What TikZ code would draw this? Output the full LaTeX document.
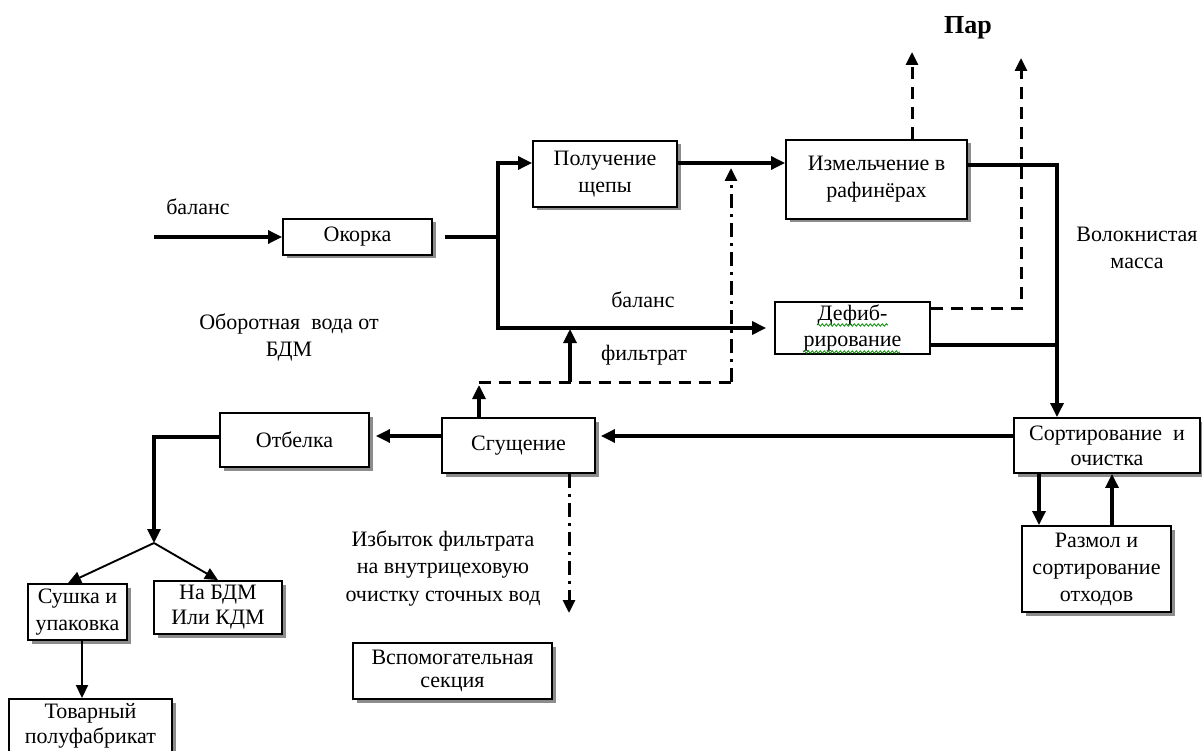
\documentclass[tikz,border=0pt]{standalone}
\usepackage{fontspec}
\setmainfont{Liberation Serif}
\usetikzlibrary{arrows.meta,shadows,decorations.pathmorphing}

\begin{document}
\begin{tikzpicture}[x=1pt,y=-1pt,
  font=\fontsize{22}{27}\selectfont,
  box/.style={draw, line width=1.9pt, fill=white, align=center, inner sep=0pt,
    drop shadow={shadow xshift=3.5pt, shadow yshift=-3.5pt, fill=black!45, opacity=1}},
  plainbox/.style={draw, line width=1.8pt, fill=white, align=center, inner sep=0pt},
  lbl/.style={align=center, inner sep=0pt},
  pipe/.style={line width=3.2pt},
  flow/.style={pipe, -{Triangle[length=14pt,width=13pt]}},
  thinflow/.style={line width=1.9pt, -{Triangle[length=13pt,width=12pt]}},
  steam/.style={line width=3pt, dash pattern=on 12pt off 8pt, -{Triangle[length=13pt,width=12pt]}},
  filtr/.style={line width=3pt, dash pattern=on 12pt off 8pt},
  ddflow/.style={line width=3pt, dash pattern=on 14pt off 6pt on 3pt off 6pt, -{Triangle[length=13pt,width=12pt]}},
  spell/.style={green!55!black, line width=0.8pt, decorate, decoration={snake, amplitude=1.2pt, segment length=4pt}}
]
\useasboundingbox (0,0) rectangle (1202,751);

% process blocks
\node[box, minimum width=149pt, minimum height=36pt] (okorka) at (357.5,237) {Окорка};
\node[box, minimum width=144pt, minimum height=66pt] (poluch) at (605,174) {Получение\\щепы};
\node[box, minimum width=181pt, minimum height=79pt] (izmel) at (876.5,179.5) {Измельчение в\\рафинёрах};
\node[plainbox, minimum width=155pt, minimum height=52pt, font=\fontsize{22}{26}\selectfont] (defib) at (852.5,328) {Дефиб-\\рирование};
\node[box, minimum width=186pt, minimum height=55pt, font=\fontsize{22}{25}\selectfont] (sort) at (1107,445.5) {Сортирование\ \ и\\очистка};
\node[box, minimum width=149pt, minimum height=86pt] (razmol) at (1096.5,569) {Размол и\\сортирование\\отходов};
\node[box, minimum width=153pt, minimum height=55pt] (sgush) at (518.5,445.5) {Сгущение};
\node[box, minimum width=149pt, minimum height=54pt] (otbel) at (294.5,440) {Отбелка};
\node[box, minimum width=99pt, minimum height=56pt] (sushka) at (77.5,612) {Сушка и\\упаковка};
\node[box, minimum width=128pt, minimum height=53pt, font=\fontsize{22}{25}\selectfont] (nabdm) at (218,607.5) {На БДМ\\Или КДМ};
\node[box, minimum width=163pt, minimum height=53pt, font=\fontsize{22}{25}\selectfont] (tovar) at (90.5,725.5) {Товарный\\полуфабрикат};
\node[box, minimum width=199pt, minimum height=56pt, font=\fontsize{22}{23}\selectfont] (vspom) at (452.5,671) {Вспомогательная\\секция};

% free labels
\node[lbl] (balIn) at (198,207) {баланс};
\node[lbl] (oborot) at (289,337) {Оборотная\ \ вода от\\БДМ};
\node[lbl] (balMid) at (643,300) {баланс};
\node[lbl] (filtrat) at (644,355) {фильтрат};
\node[lbl] (volokno) at (1137,247.5) {Волокнистая\\масса};
\node[lbl, font=\fontsize{26}{30}\selectfont\bfseries] (par) at (968,28) {Пар};
\node[lbl, font=\fontsize{22}{27.5}\selectfont] (izbytok) at (443,568) {Избыток фильтрата\\на внутрицеховую\\очистку сточных вод};

% spelling marks under the defibration label
\draw[spell] (817,325) -- (888,325);
\draw[spell] (803,352) -- (900,352);

% junction points
\coordinate (in) at (154,237);
\coordinate (j1) at (498,237);
\coordinate (steamA) at (912,52);
\coordinate (steamB) at (1021,58);
\coordinate (trunk) at (1057,165);
\coordinate (fl) at (479,382);
\coordinate (fr) at (731,382);
\coordinate (fm) at (570,382);
\coordinate (fmtop) at (570,329);
\coordinate (frtop) at (731,168);
\coordinate (br) at (154,543);
\coordinate (excess) at (569,613);
\coordinate (pOut) at ([yshift=11pt]poluch.east);
\coordinate (dOut) at ([yshift=-17pt]defib.east);
\coordinate (sOut) at ([yshift=9.5pt]sort.west);
\coordinate (gOut) at ([yshift=9.5pt]sgush.west);
\coordinate (dn1) at ([xshift=-68pt]sort.south);
\coordinate (up1) at ([xshift=5pt]sort.south);
\coordinate (suOut) at ([xshift=4.5pt]sushka.south);

% main flow
\draw[flow] (in) -- (okorka.west);
\draw[pipe] ([xshift=12pt]okorka.east) -- (j1);
\draw[flow] (j1) |- ([yshift=11pt]poluch.west);
\draw[flow] (j1) |- ([xshift=-8pt]defib.west);
\draw[flow] (pOut) -- (pOut -| izmel.west);
\draw[flow] ([yshift=14.5pt]izmel.east) -| ([xshift=-50pt]sort.north);
\draw[pipe] (dOut) -- (dOut -| trunk);
\draw[flow, shorten >=5pt] (sOut) -- (sOut -| sgush.east);
\draw[flow, shorten >=6pt] (gOut) -- (gOut -| otbel.east);
\draw[flow] ([yshift=3pt]otbel.west) -| (br);
\draw[thinflow] (br) -- ([xshift=-9.5pt]sushka.north);
\draw[thinflow] (br) -- (nabdm.north);
\draw[thinflow] (suOut) -- (suOut |- tovar.north);
\draw[flow] (dn1) -- (dn1 |- razmol.north);
\draw[flow] (up1 |- razmol.north) -- (up1);

% steam
\draw[steam] ([xshift=35.5pt]izmel.north) -- (steamA);
\draw[steam] ([yshift=19pt]defib.east) -| (steamB);

% filtrate return
\draw[flow] ([xshift=-39.5pt]sgush.north) -- ([yshift=-3pt]fl);
\draw[filtr] (fl) -- (fr);
\draw[flow] (fm) -- (fmtop);
\draw[ddflow] (fr) -- (frtop);
\draw[ddflow] ([xshift=50.5pt]sgush.south) -- (excess);
\end{tikzpicture}
\end{document}
